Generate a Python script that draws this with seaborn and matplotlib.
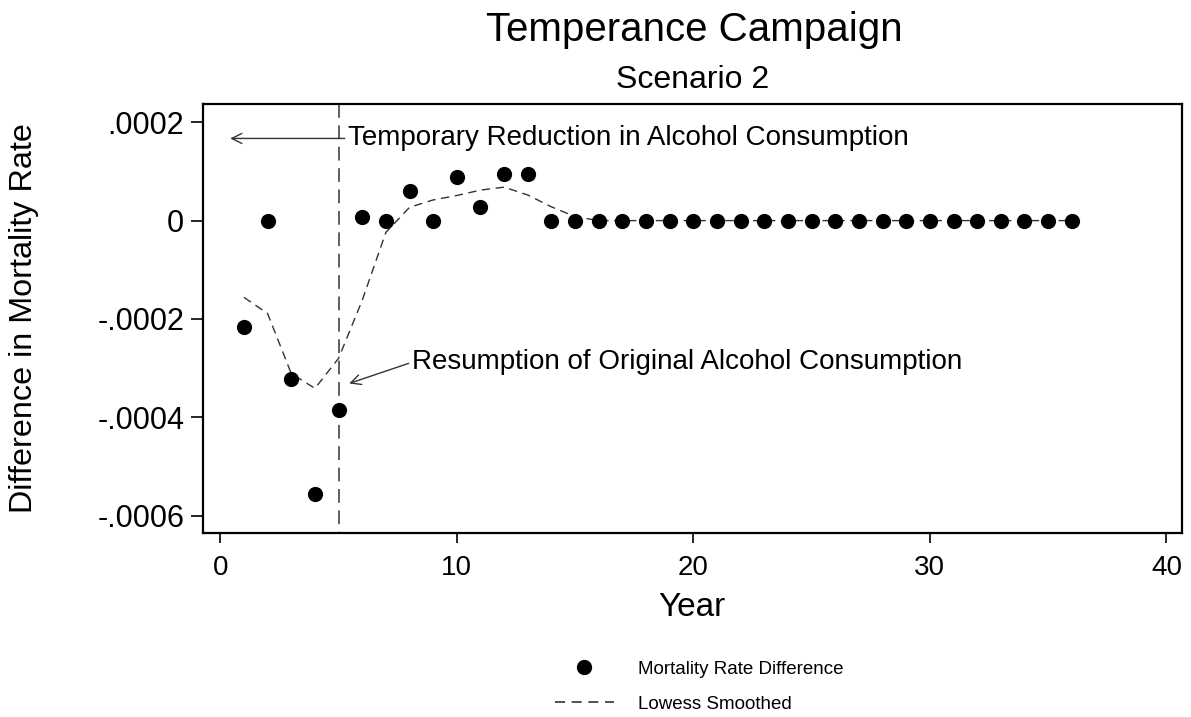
import numpy as np
import pandas as pd
import seaborn as sns
import matplotlib.pyplot as plt
from matplotlib.lines import Line2D

# data
years = list(range(1, 37))
mort_diff = [-0.000217, 0.0, -0.000321, -0.000555, -0.000384, 0.000007, 0.0, 0.000061,
             0.0, 0.000089, 0.000028, 0.000095, 0.000094] + [0.0] * 23
lowess = [-0.000156, -0.000189, -0.000311, -0.000341, -0.000280, -0.000162, -0.000024,
          0.000027, 0.000042, 0.000051, 0.000062, 0.000068, 0.000052, 0.000028,
          0.000008] + [0.0] * 21
yticks = [-0.0006, -0.0004, -0.0002, 0.0, 0.0002]
ytick_labels = ['-.0006', '-.0004', '-.0002', '0', '.0002']
xticks = [0, 10, 20, 30, 40]
event_year = 5

df = pd.DataFrame({'year': years, 'diff': mort_diff, 'lowess': lowess})

sns.set_style('ticks')
plt.rcParams['font.family'] = ['Liberation Sans', 'DejaVu Sans']
plt.rcParams['text.color'] = 'black'
plt.rcParams['axes.labelcolor'] = 'black'

fig = plt.figure(figsize=(11.91, 7.17), dpi=100)
ax = fig.add_axes([202.5 / 1191, 1 - 532.5 / 717, (1182 - 202.5) / 1191, (532.5 - 104) / 717])

sns.lineplot(data=df, x='year', y='lowess', ax=ax, color='#333333', linewidth=1.0,
             zorder=2, legend=False)
ax.lines[-1].set_dashes([6, 4])
sns.scatterplot(data=df, x='year', y='diff', ax=ax, color='black', s=120,
                edgecolor='black', linewidth=0, zorder=3, legend=False)

# dashed marker of the campaign end, drawn from the top down
ax.axvline(event_year, ymin=1, ymax=0, color='#333333', linewidth=1.1,
           dashes=(9, 5), zorder=1)

ax.annotate('Temporary Reduction in Alcohol Consumption', xy=(0.42, 0.000167),
            xytext=(5.4, 0.000167), fontsize=20, ha='left', va='center',
            arrowprops=dict(arrowstyle='->', color='#333333', lw=1.0,
                            shrinkA=0, shrinkB=0, relpos=(0, 0.5),
                            mutation_scale=18))
ax.annotate('Resumption of Original Alcohol Consumption', xy=(5.45, -0.000331),
            xytext=(8.1, -0.000288), fontsize=20, ha='left', va='center',
            arrowprops=dict(arrowstyle='->', color='#333333', lw=1.0,
                            shrinkA=0, shrinkB=0, relpos=(0, 0.5),
                            mutation_scale=18))

ax.set_xlim(-0.753, 40.66)
ax.set_ylim(-0.000634, 0.000237)
ax.set_xticks(xticks)
ax.set_xticklabels([str(t) for t in xticks], fontsize=20)
ax.set_yticks(yticks)
ax.set_yticklabels(ytick_labels, fontsize=22)
ax.tick_params(axis='x', direction='out', length=7, width=1.2, colors='black', pad=9)
ax.tick_params(axis='y', direction='out', length=8.6, width=1.2, colors='black', pad=4.5)
for side in ['left', 'right', 'top', 'bottom']:
    ax.spines[side].set_visible(True)
    ax.spines[side].set_color('black')
    ax.spines[side].set_linewidth(1.6)

ax.set_xlabel('Year', fontsize=24, labelpad=8)
ax.set_ylabel('Difference in Mortality Rate', fontsize=23.3)
ax.yaxis.set_label_coords(-0.167, 0.5)

fig.text(694 / 1191, 1 - 30 / 717, 'Temperance Campaign', fontsize=29,
         ha='center', va='center')
fig.text(693 / 1191, 1 - 80 / 717, 'Scenario 2', fontsize=23,
         ha='center', va='center')

handles = [Line2D([], [], marker='o', color='black', linestyle='none', markersize=10),
           Line2D([], [], color='#333333', linewidth=1.2, dashes=(6, 4))]
fig.legend(handles, ['Mortality Rate Difference', 'Lowess Smoothed'], loc='center',
           bbox_to_anchor=(699 / 1191, 1 - 686.5 / 717), frameon=False, fontsize=13.5,
           handlelength=3.15, handletextpad=1.28, labelspacing=0.95)

fig.savefig('out.png', dpi=100)
